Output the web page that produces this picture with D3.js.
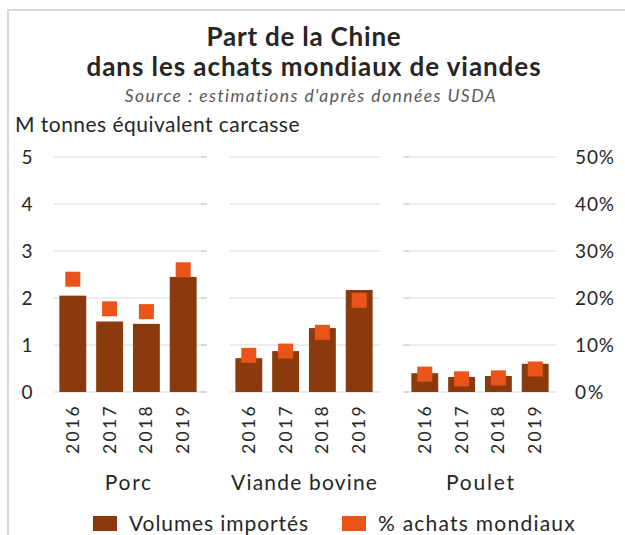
<!DOCTYPE html>
<html><head><meta charset="utf-8">
<script src="https://cdn.jsdelivr.net/npm/d3@7"></script>
<style>
body{margin:0;background:#fff;}
svg text{font-family:Lato,"Open Sans",sans-serif;fill:#262626;}
</style></head>
<body><svg id="c" width="625" height="535"></svg>
<script>
const categories = ["Porc", "Viande bovine", "Poulet"];
const years = ["2016", "2017", "2018", "2019"];
const volumes = [
  [2.05, 1.5, 1.45, 2.45],
  [0.72, 0.87, 1.36, 2.17],
  [0.40, 0.32, 0.34, 0.60]
];
const shares = [
  [0.24, 0.177, 0.171, 0.26],
  [0.078, 0.087, 0.127, 0.195],
  [0.038, 0.028, 0.030, 0.049]
];
const leftTicks = [0, 1, 2, 3, 4, 5];
const rightTicks = [0, 0.1, 0.2, 0.3, 0.4, 0.5];
const title1 = "Part de la Chine";
const title2 = "dans les achats mondiaux de viandes";
const source = "Source : estimations d'après données USDA";
const unit = "M tonnes équivalent carcasse";
const legendLabels = ["Volumes importés", "% achats mondiaux"];

const barColor = "#8b3a0e", markColor = "#eb5419", gridColor = "#d9d9d9";
const svg = d3.select("#c");

// set size, then widen with letter-spacing to reach a target width
function fit(sel, target, size){
  sel.style("font-size", size+"px").style("letter-spacing","0px");
  const w = sel.node().getComputedTextLength();
  const n = sel.text().length;
  const ls = Math.max(-1,(target - w)/n);
  sel.style("letter-spacing", ls+"px");
  return ls;
}

// frame
svg.append("path").attr("d","M8,540 V10 H630").attr("fill","none").attr("stroke","#d9d9d9").attr("stroke-width",2);

const y = d3.scaleLinear().domain([0,5]).range([392,157]);
const y2 = d3.scaleLinear().domain([0,0.5]).range([392,157]);
const xc = d3.scaleBand().domain(categories).range([40,568]);
const xi = d3.scaleBand().domain(years).range([-73.6,73.6]).paddingInner(0.27).paddingOuter(0.135);

// titles
fit(svg.append("text").attr("x",304).attr("y",46).attr("text-anchor","middle").style("font-weight","bold").attr("fill","#1a1a1a").text(title1),195,26);
fit(svg.append("text").attr("x",314).attr("y",76).attr("text-anchor","middle").style("font-weight","bold").attr("fill","#1a1a1a").text(title2),455,26);
fit(svg.append("text").attr("x",311).attr("y",102).attr("text-anchor","middle").style("font-style","italic").style("fill","#595959").text(source),372,17.5);
fit(svg.append("text").attr("x",15).attr("y",132).text(unit),285,21);

const catW = [48,147,70];
categories.forEach((c,i)=>{
  const cx = xc(c) + xc.bandwidth()/2;
  const g = svg.append("g");
  g.selectAll("line").data(leftTicks).join("line")
    .attr("x1",cx-74).attr("x2",cx+76)
    .attr("y1",d=>y(d)).attr("y2",d=>y(d))
    .attr("stroke",gridColor).attr("stroke-width",1);
  const tx = i===0 ? cx+76 : (i===2 ? cx-74 : null);
  if(tx!==null){
    g.selectAll("line.t").data(leftTicks).join("line").attr("class","t")
      .attr("x1",tx-3).attr("x2",tx+3).attr("y1",d=>y(d)).attr("y2",d=>y(d))
      .attr("stroke","#bfbfbf").attr("stroke-width",1);
  }
  // bars
  g.selectAll("rect.bar").data(volumes[i]).join("rect").attr("class","bar")
    .attr("x",(d,j)=>cx+xi(years[j])).attr("width",xi.bandwidth())
    .attr("y",d=>y(d)).attr("height",d=>y(0)-y(d)).attr("fill",barColor);
  // markers
  g.selectAll("rect.mk").data(shares[i]).join("rect").attr("class","mk")
    .attr("x",(d,j)=>cx+xi(years[j])+xi.bandwidth()/2-7.5).attr("width",15)
    .attr("y",d=>y2(d)-7.5).attr("height",15).attr("fill",markColor);
  // year labels
  const yl = g.selectAll("text.yr").data(years).join("text").attr("class","yr")
    .attr("text-anchor","end").text(d=>d);
  yl.each(function(){ fit(d3.select(this),50,17.5); });
  yl.attr("transform",d=>`translate(${cx+xi(d)+xi.bandwidth()/2+6},404) rotate(-90)`);
  // category label
  const ct = svg.append("text").attr("x",cx).attr("y",490).attr("text-anchor","middle").text(c);
  const ls = fit(ct,catW[i],21);
  ct.attr("x",cx+ls/2);
});

// left axis
svg.selectAll("text.la").data(leftTicks).join("text").attr("class","la")
  .attr("x",27).attr("y",d=>y(d)+7).attr("text-anchor","middle").style("font-size","19px")
  .text(d=>d);
// right axis
const ra = svg.selectAll("text.ra").data(rightTicks).join("text").attr("class","ra")
  .attr("x",575).attr("y",d=>y2(d)+7)
  .text(d=>d3.format(".0%")(d));
ra.each(function(d){ fit(d3.select(this), d===0?30:40, 19); });

// legend
const lg = [{x:93,c:barColor,t:legendLabels[0],w:180},{x:342,c:markColor,t:legendLabels[1],w:198}];
lg.forEach(l=>{
  svg.append("rect").attr("x",l.x).attr("y",516).attr("width",24).attr("height",15).attr("fill",l.c);
  fit(svg.append("text").attr("x",l.x+36).attr("y",531).text(l.t),l.w,21);
});
</script></body></html>
